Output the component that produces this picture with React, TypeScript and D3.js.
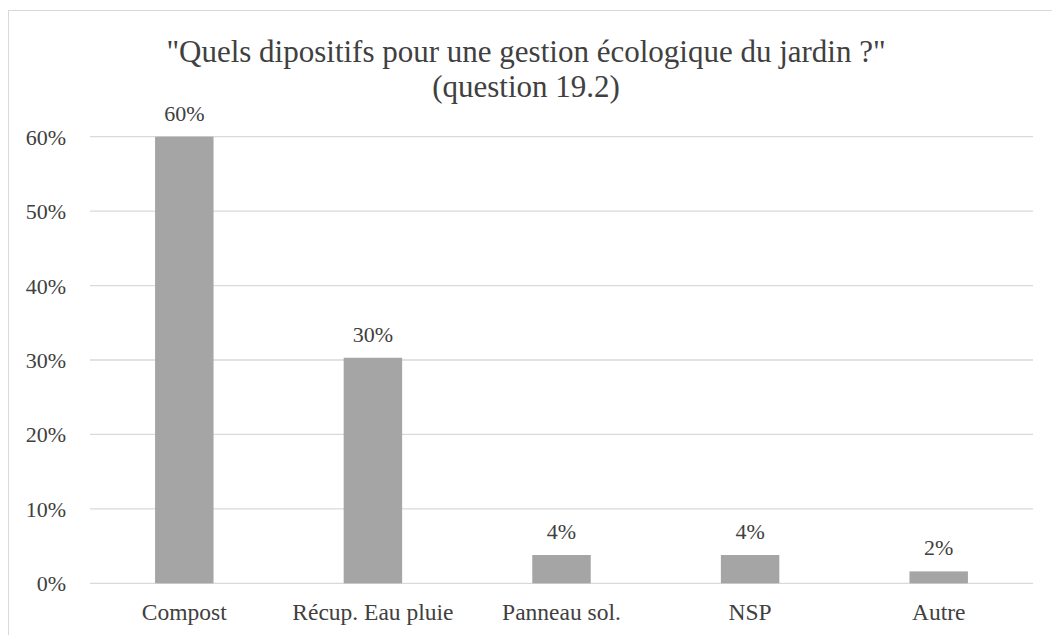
import React, {useEffect, useRef} from 'react';
import * as d3 from "d3";

const categories = ["Compost", "Récup. Eau pluie", "Panneau sol.", "NSP", "Autre"];
const values = [0.60, 0.303, 0.038, 0.038, 0.016];
const valueLabels = ["60%", "30%", "4%", "4%", "2%"];
const yTicks = [0, 0.1, 0.2, 0.3, 0.4, 0.5, 0.6];
const titleLines = ["\"Quels dipositifs pour une gestion écologique du jardin ?\"", "(question 19.2)"];

const FONT = "'Liberation Serif', 'Times New Roman', serif";
const TEXT = "#404040";

export default function App() {
    const ref = useRef<SVGSVGElement | null>(null);

    useEffect(() => {
        const svg = d3.select(ref.current);
        svg.selectAll("*").remove();

        const plot = {left: 90, right: 1033, top: 136.7, bottom: 583.3};

        // chart frame (runs past the right/bottom edge of the window)
        svg.append("rect")
            .attr("x", 8.5)
            .attr("y", 10.5)
            .attr("width", 1100)
            .attr("height", 700)
            .attr("fill", "white")
            .attr("stroke", "#D9D9D9")
            .attr("stroke-width", 1);

        const xScale = d3.scaleBand()
            .domain(categories)
            .range([plot.left, plot.right])
            .paddingInner(0.69)
            .paddingOuter(0.345);

        const yScale = d3.scaleLinear()
            .domain([0, 0.6])
            .range([plot.bottom, plot.top]);

        //grid lines
        svg.append("g")
            .selectAll("line")
            .data(yTicks)
            .join("line")
            .attr("x1", plot.left)
            .attr("x2", plot.right)
            .attr("y1", d => yScale(d))
            .attr("y2", d => yScale(d))
            .attr("stroke", "#D9D9D9")
            .attr("stroke-width", 1.3);

        //y labels
        svg.append("g")
            .selectAll("text")
            .data(yTicks)
            .join("text")
            .attr("x", 66)
            .attr("y", d => yScale(d) + 8)
            .attr("text-anchor", "end")
            .attr("font-family", FONT)
            .attr("font-size", 22)
            .attr("fill", TEXT)
            .text(d => d3.format(".0%")(d));

        //bars
        svg.append("g")
            .selectAll("rect")
            .data(values)
            .join("rect")
            .attr("x", (d, i) => xScale(categories[i]))
            .attr("y", d => yScale(d))
            .attr("width", xScale.bandwidth())
            .attr("height", d => yScale(0) - yScale(d))
            .attr("fill", "#A5A5A5");

        //value labels
        svg.append("g")
            .selectAll("text")
            .data(values)
            .join("text")
            .attr("x", (d, i) => xScale(categories[i]) + xScale.bandwidth() / 2)
            .attr("y", d => yScale(d) - 16)
            .attr("text-anchor", "middle")
            .attr("font-family", FONT)
            .attr("font-size", 22)
            .attr("fill", TEXT)
            .text((d, i) => valueLabels[i]);

        //category labels
        svg.append("g")
            .selectAll("text")
            .data(categories)
            .join("text")
            .attr("x", d => xScale(d) + xScale.bandwidth() / 2)
            .attr("y", 620)
            .attr("text-anchor", "middle")
            .attr("font-family", FONT)
            .attr("font-size", 23.5)
            .attr("fill", TEXT)
            .text(d => d);

        //title
        svg.append("g")
            .selectAll("text")
            .data(titleLines)
            .join("text")
            .attr("x", 526)
            .attr("y", (d, i) => 62 + i * 35)
            .attr("text-anchor", "middle")
            .attr("font-family", FONT)
            .attr("font-size", 31)
            .attr("fill", TEXT)
            .text(d => d);
    }, []);

    return (
        <div style={{position: "fixed", left: 0, top: 0, width: 1052, height: 635, overflow: "hidden", background: "white"}}>
            <svg ref={ref} width={1052} height={635} style={{display: "block"}}></svg>
        </div>
    );
}
